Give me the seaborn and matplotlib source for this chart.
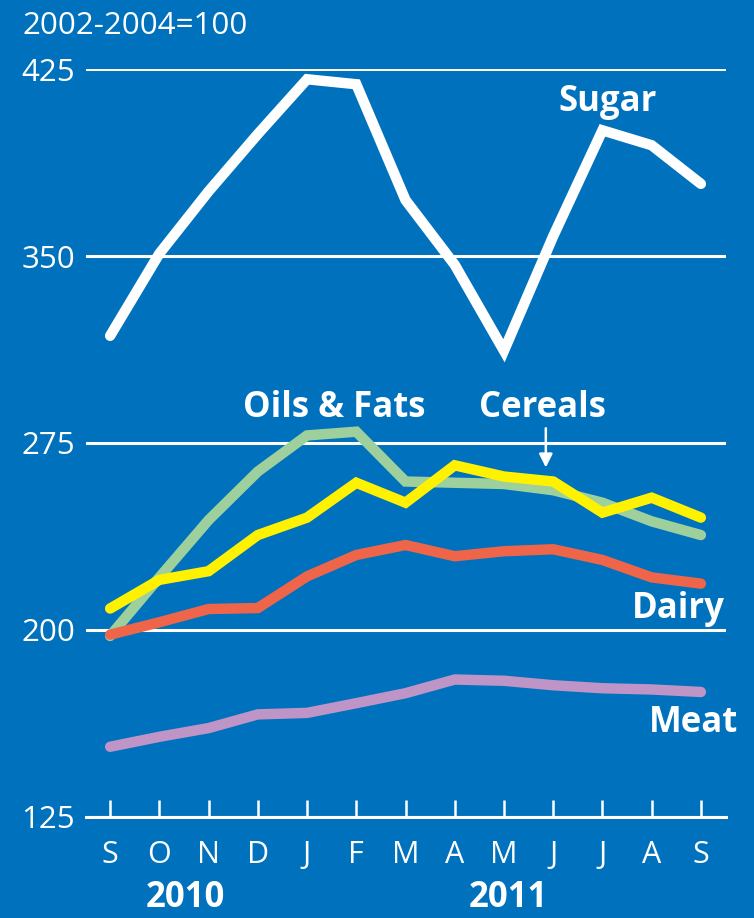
import seaborn as sns
import pandas as pd
import numpy as np
import matplotlib.pyplot as plt

# Values (index, 2002-2004=100)
months = ['S', 'O', 'N', 'D', 'J', 'F', 'M', 'A', 'M', 'J', 'J', 'A', 'S']
sugar = [318, 351, 376, 399, 421, 419, 372.5, 346.5, 312, 358, 400.5, 394.5, 379]
oils = [197.5, 221, 244, 263.5, 278, 279.5, 259.5, 259, 258.5, 256, 251, 243.5, 238]
cereals = [208.5, 220, 223.5, 238, 245, 259, 251, 266, 261.5, 259.5, 247, 253, 245]
dairy = [198, 203, 208.3, 208.7, 221.4, 230, 234, 229.5, 231.5, 232.3, 228, 221, 218.5]
meat = [153, 157, 160.5, 166, 166.6, 170.5, 174.5, 180, 179.5, 177.7, 176.5, 176, 175]
yticks = [125, 200, 275, 350, 425]
years = ['2010', '2011']

blue = '#0071BC'
colors = {'Oils & Fats': '#9DD09C', 'Cereals': '#FFF200', 'Dairy': '#EF654A',
          'Meat': '#BE95C6', 'Sugar': 'white'}

sns.set_theme(style='white')
plt.rcParams['font.family'] = ['Open Sans', 'DejaVu Sans']

x = np.arange(len(months))
df = pd.concat([
    pd.DataFrame({'x': x, 'value': oils, 'series': 'Oils & Fats'}),
    pd.DataFrame({'x': x, 'value': cereals, 'series': 'Cereals'}),
    pd.DataFrame({'x': x, 'value': dairy, 'series': 'Dairy'}),
    pd.DataFrame({'x': x, 'value': meat, 'series': 'Meat'}),
    pd.DataFrame({'x': x, 'value': sugar, 'series': 'Sugar'}),
])

fig = plt.figure(figsize=(7.54, 9.18), dpi=100, facecolor=blue)
ax = fig.add_axes([86 / 754, 1 - 816.5 / 918, 640 / 754, 747.2 / 918])
ax.set_facecolor(blue)

# grid first so the lines sit on top
ax.set_ylim(125, 425)
ax.set_xlim(-0.49, 12.51)
ax.set_yticks(yticks)
ax.grid(axis='y', color='white', lw=2.2)
ax.grid(axis='x', visible=False)
ax.set_axisbelow(True)

for name in ['Oils & Fats', 'Cereals', 'Dairy', 'Meat', 'Sugar']:
    sub = df[df['series'] == name]
    sns.lineplot(data=sub, x='x', y='value', ax=ax, color=colors[name], lw=7.5,
                 solid_capstyle='round', solid_joinstyle='miter', clip_on=False,
                 legend=False, zorder=3)

for s in ['left', 'right', 'top']:
    ax.spines[s].set_visible(False)
ax.spines['bottom'].set_color('white')
ax.spines['bottom'].set_linewidth(2.2)

ax.set_xticks(x)
ax.set_xticklabels(months)
ax.tick_params(axis='x', direction='in', length=12.5, width=1.8, color='white',
               labelcolor='white', labelsize=22, pad=17, bottom=True)
ax.tick_params(axis='y', length=0, labelcolor='white', labelsize=22.5, pad=8)
ax.set_xlabel('')
ax.set_ylabel('')

# series labels
ax.text(11.1, 408.4, 'Sugar', color='white', fontsize=25, fontweight='bold', ha='right', va='baseline')
ax.text(4.55, 285.5, 'Oils & Fats', color='white', fontsize=25, fontweight='bold', ha='center', va='baseline')
ax.text(8.79, 285.5, 'Cereals', color='white', fontsize=25, fontweight='bold', ha='center', va='baseline')
ax.text(12.49, 204.5, 'Dairy', color='white', fontsize=25, fontweight='bold', ha='right', va='baseline', clip_on=False)
ax.text(12.75, 159, 'Meat', color='white', fontsize=25, fontweight='bold', ha='right', va='baseline', clip_on=False)
ax.annotate('', xy=(8.85, 264), xytext=(8.85, 282),
            arrowprops=dict(arrowstyle='-|>', color='white', lw=1.8, mutation_scale=20))

fig.text(22 / 754, 1 - 33.5 / 918, '2002-2004=100', color='white', fontsize=22.5, va='baseline')
# year labels sit on the bottom edge
fig.text(185 / 754, 0.002, years[0], color='white', fontsize=25, fontweight='bold', ha='center', va='bottom')
fig.text(508 / 754, 0.002, years[1], color='white', fontsize=25, fontweight='bold', ha='center', va='bottom')

fig.savefig('out.png', dpi=100, facecolor=blue)
